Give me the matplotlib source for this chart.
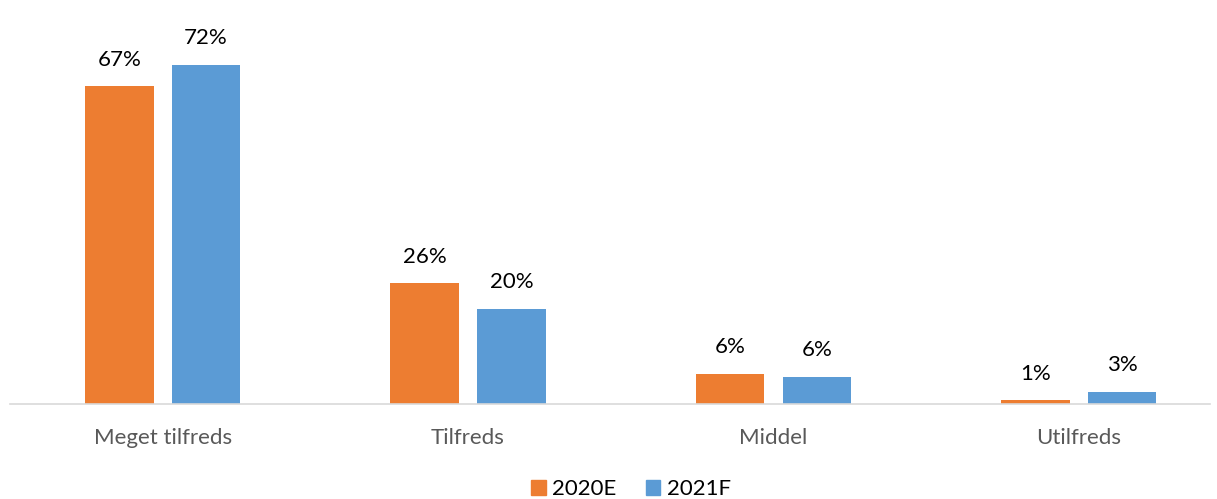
import numpy as np
import matplotlib.pyplot as plt
from matplotlib.patches import Patch

categories = ["Meget tilfreds", "Tilfreds", "Middel", "Utilfreds"]
series_names = ["2020E", "2021F"]
values_2020 = [67.3, 25.6, 6.4, 0.8]
values_2021 = [71.8, 20.1, 5.7, 2.6]
labels_2020 = ["67%", "26%", "6%", "1%"]
labels_2021 = ["72%", "20%", "6%", "3%"]

orange = "#ED7D31"
blue = "#5B9BD5"

plt.rcParams['font.family'] = ['Lato', 'DejaVu Sans']

fig = plt.figure(figsize=(12.17, 4.99), dpi=100)
ax = fig.add_axes([10/1217, 95/499, 1200/1217, 404/499])

x = np.arange(len(categories))
w = 0.224
off = 0.142
b1 = ax.bar(x - off, values_2020, w, color=orange)
b2 = ax.bar(x + off, values_2021, w, color=blue)

for bars, labs in ((b1, labels_2020), (b2, labels_2021)):
    for bar, lab in zip(bars, labs):
        ax.annotate(lab, (bar.get_x() + bar.get_width()/2, bar.get_height()),
                    xytext=(0, 12), textcoords="offset points",
                    ha="center", va="bottom", fontsize=16, color="black")

ax.set_xlim(-0.5, 3.43)
ax.set_ylim(0, 85.6)
ax.set_xticks(x)
ax.set_xticklabels(categories, fontsize=16, color="#595959")
ax.tick_params(axis='x', length=0, pad=17)
ax.set_yticks([])
for s in ("top", "right", "left"):
    ax.spines[s].set_visible(False)
ax.spines["bottom"].set_color("#D9D9D9")
ax.spines["bottom"].set_linewidth(1.2)

handles = [Patch(color=orange), Patch(color=blue)]
fig.legend(handles, series_names, loc="center", bbox_to_anchor=(631/1217, 10/499),
           ncol=2, frameon=False, fontsize=16, handlelength=0.65, handleheight=0.65,
           handletextpad=0.3, columnspacing=1.3, borderpad=0)

fig.savefig("out.png", dpi=100)
